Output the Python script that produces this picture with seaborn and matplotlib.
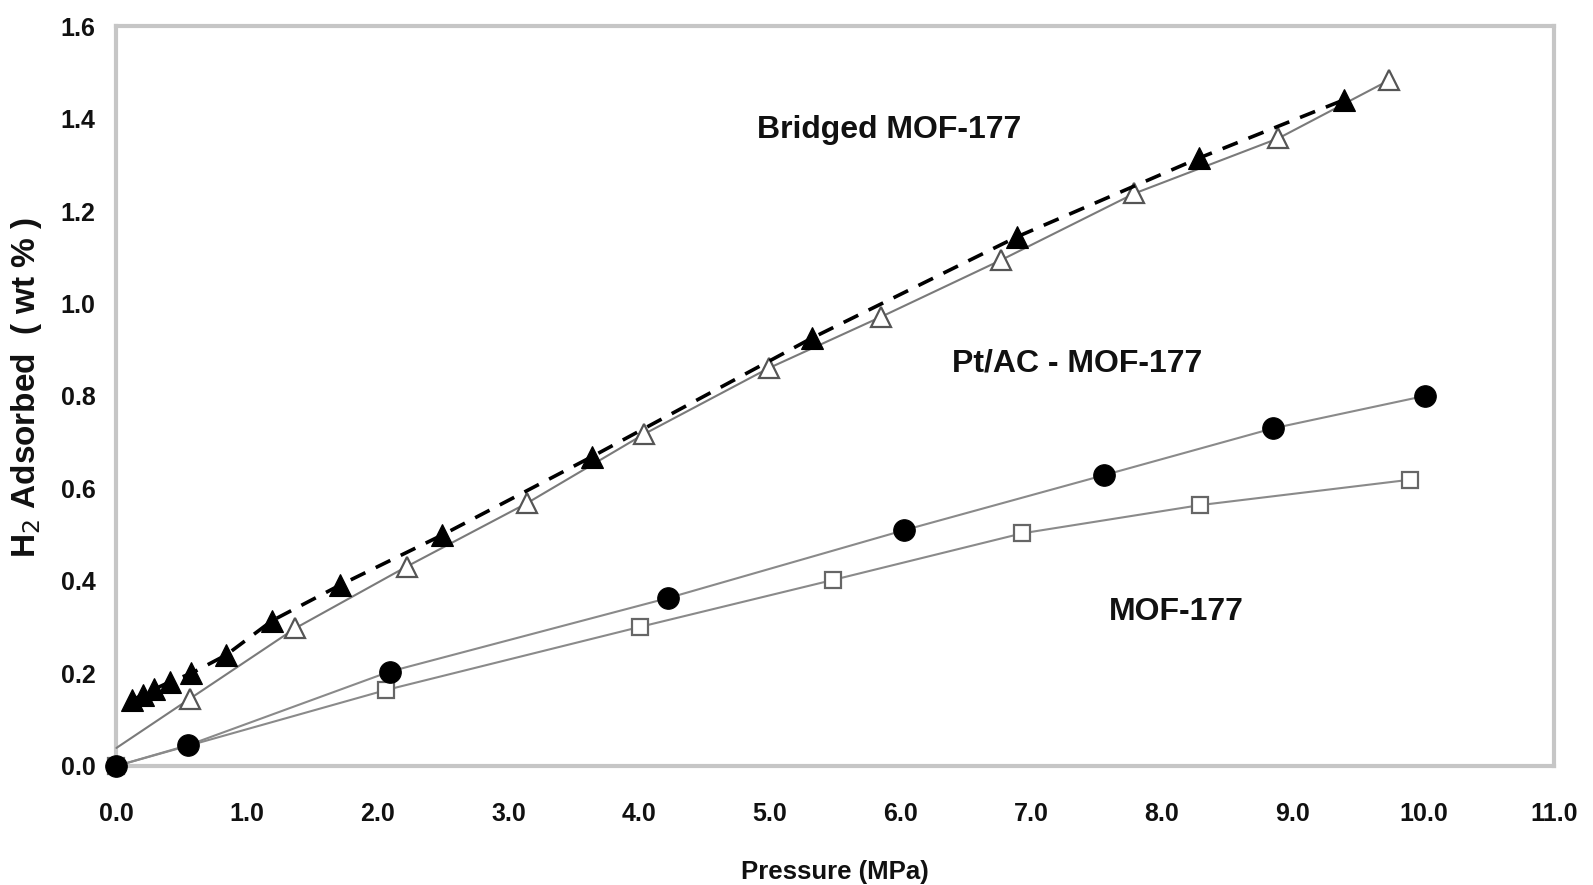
import matplotlib
matplotlib.use("Agg")
import matplotlib.pyplot as plt
import seaborn as sns
import pandas as pd

# ---- data ----
# Bridged MOF-177 (filled triangles, dashed line)
bridged_fill_p = [0.12, 0.20, 0.29, 0.41, 0.57, 0.84, 1.19, 1.71, 2.49, 3.64, 5.32, 6.89, 8.28, 9.39]
bridged_fill_h = [0.143, 0.153, 0.166, 0.182, 0.200, 0.240, 0.314, 0.391, 0.499, 0.669, 0.925, 1.144, 1.314, 1.440]
# Bridged MOF-177 (open triangles, thin solid line)
bridged_open_p = [0.56, 1.37, 2.22, 3.14, 4.04, 4.99, 5.85, 6.77, 7.79, 8.89, 9.74]
bridged_open_h = [0.145, 0.298, 0.431, 0.568, 0.718, 0.860, 0.971, 1.094, 1.238, 1.357, 1.483]
bridged_open_start = (0.0, 0.039)
# Pt/AC - MOF-177 (filled circles)
ptac_p = [0.0, 0.55, 2.09, 4.22, 6.03, 7.56, 8.85, 10.01]
ptac_h = [0.0, 0.045, 0.204, 0.363, 0.510, 0.629, 0.730, 0.800]
# MOF-177 (open squares)
mof_p = [0.0, 2.06, 4.01, 5.48, 6.93, 8.29, 9.90]
mof_h = [0.0, 0.164, 0.301, 0.402, 0.503, 0.564, 0.619]

x_ticks = [0.0, 1.0, 2.0, 3.0, 4.0, 5.0, 6.0, 7.0, 8.0, 9.0, 10.0, 11.0]
y_ticks = [0.0, 0.2, 0.4, 0.6, 0.8, 1.0, 1.2, 1.4, 1.6]

labels = {"bridged": "Bridged MOF-177", "ptac": "Pt/AC - MOF-177", "mof": "MOF-177"}
label_pos = {"bridged": (5.91, 1.375), "ptac": (7.35, 0.871), "mof": (8.11, 0.333)}

sns.set_theme(style="white")
plt.rcParams["font.family"] = ["Liberation Sans", "DejaVu Sans"]

fig = plt.figure(figsize=(15.93, 8.85), dpi=100)
ax = fig.add_axes([0.0731, 0.1345, 0.9755 - 0.0731, 0.9706 - 0.1345])

# open triangles series: line from intercept through points
df_open = pd.DataFrame({"p": [bridged_open_start[0]] + bridged_open_p,
                        "h": [bridged_open_start[1]] + bridged_open_h})
sns.lineplot(data=df_open, x="p", y="h", ax=ax, sort=False, estimator=None,
             color="#7a7a7a", linewidth=1.5, marker="^", markersize=15,
             markerfacecolor="white", markeredgecolor="#555555", markeredgewidth=1.6,
             markevery=list(range(1, len(df_open))), clip_on=False)

# filled triangles, dashed
df_fill = pd.DataFrame({"p": bridged_fill_p, "h": bridged_fill_h})
sns.lineplot(data=df_fill, x="p", y="h", ax=ax, sort=False, estimator=None,
             color="black", linewidth=2.6, linestyle=(0, (4.5, 3.2)),
             marker="^", markersize=15.5, markerfacecolor="black",
             markeredgecolor="black", markeredgewidth=0.8, clip_on=False)

# squares
df_mof = pd.DataFrame({"p": mof_p, "h": mof_h})
sns.lineplot(data=df_mof, x="p", y="h", ax=ax, sort=False, estimator=None,
             color="#8a8a8a", linewidth=1.5, marker="s", markersize=11,
             markerfacecolor="white", markeredgecolor="#666666", markeredgewidth=1.6,
             clip_on=False)

# circles
df_pt = pd.DataFrame({"p": ptac_p, "h": ptac_h})
sns.lineplot(data=df_pt, x="p", y="h", ax=ax, sort=False, estimator=None,
             color="#8a8a8a", linewidth=1.5, marker="o", markersize=15.5,
             markerfacecolor="black", markeredgecolor="black", markeredgewidth=0.8,
             clip_on=False)

for k, t in labels.items():
    x, y = label_pos[k]
    ax.text(x, y, t, ha="center", va="center", fontsize=23, fontweight="bold", color="#111111")

ax.set_xlim(0, 11)
ax.set_ylim(0, 1.6)
ax.set_xticks(x_ticks)
ax.set_yticks(y_ticks)
ax.set_xticklabels([f"{v:.1f}" for v in x_ticks])
ax.set_yticklabels([f"{v:.1f}" for v in y_ticks])
ax.tick_params(axis="both", direction="out", length=6, width=1.4, color="#888888",
               labelsize=18, labelcolor="#111111")
ax.tick_params(axis="x", pad=20)
ax.tick_params(axis="y", pad=9)
for lab in ax.get_xticklabels() + ax.get_yticklabels():
    lab.set_fontweight("bold")

for s in ax.spines.values():
    s.set_visible(True)
    s.set_color("#c6c6c6")
    s.set_linewidth(3)
    s.set_zorder(0.5)

ax.set_xlabel("Pressure (MPa)", fontsize=18.5, fontweight="bold", color="#111111")
ax.xaxis.set_label_coords(0.5, -0.127)
ax.xaxis.label.set_va("top")
ax.set_ylabel("")
fig.text(27 / 1593, 1 - 388 / 885, "H$_2$ Adsorbed  ( wt % )", rotation=90,
         ha="center", va="center", fontsize=24, fontweight="bold", color="#111111")

ax.grid(False)
fig.savefig("out.png", dpi=100, facecolor="white")
